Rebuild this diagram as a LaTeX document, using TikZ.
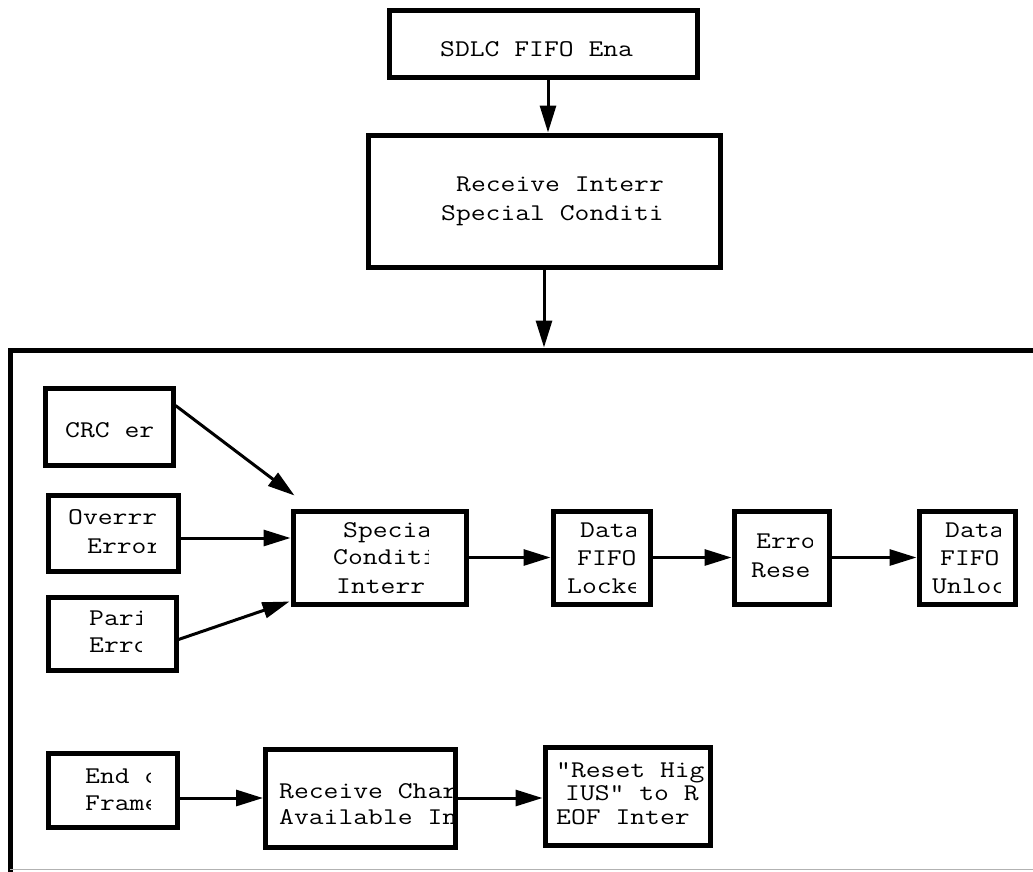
\documentclass[tikz,border=0pt]{standalone}
\usepackage{graphicx}
\usetikzlibrary{arrows.meta}
\newcommand\sx[1]{\scalebox{1.2}[1]{#1}}
\tikzset{
  bx/.style={draw, line width=5pt, inner sep=0pt, rectangle},
  txt/.style={anchor=base west, inner sep=0pt, font=\ttfamily\fontsize{24}{28}\selectfont},
  arr/.style={line width=3pt, -{Triangle[length=27pt,width=16pt]}},
}
% box: name, x1, y1, x2, y2
\newcommand\bxat[5]{\node[bx, minimum width={#4pt-#2pt}, minimum height={#5pt-#3pt}] (#1) at ({(#2+#4)/2},{(#3+#5)/2}) {};}
% clipped text: name, clip x, x, baseline y, text
\newcommand\ctext[5]{\begin{scope}\clip (0,0) rectangle (#2,871); \node[txt] (#1) at (#3,#4) {\sx{#5}};\end{scope}}
\begin{document}
\begin{tikzpicture}[x=1pt,y=-1pt]
\useasboundingbox (0,0) rectangle (1033,871);
\clip (0,0) rectangle (1033,871);
\fill[white] (0,0) rectangle (1033,871);
% outer frame
\node[bx, anchor=north west, minimum width=1100pt, minimum height=620pt] (frame) at (7.5,347.5) {};
\draw[gray!60, line width=1.5pt] (10,869.5) -- (1033,869.5);
% boxes
\bxat{sdlc}{389}{10}{697}{77}
\bxat{rint}{368}{135}{720}{267}
\bxat{crc}{45}{388}{173}{465}
\bxat{ovr}{48}{495}{178}{571}
\bxat{par}{48}{597}{176}{670}
\bxat{spec}{293}{511}{466}{604}
\bxat{lock}{553}{511}{650}{604}
\bxat{erst}{734}{511}{829}{604}
\bxat{unlk}{919}{511}{1015}{604}
\bxat{eof}{48.5}{753}{177.5}{827}
\bxat{rchr}{265.5}{749}{455.5}{847}
\bxat{rhi}{545}{747}{710}{845}
% texts
\ctext{t1}{637}{440}{56}{SDLC FIFO Ena}
\ctext{t2a}{663}{456}{191}{Receive Interr}
\ctext{t2b}{663}{441}{220}{Special Conditi}
\ctext{t3}{155}{65}{437}{CRC er}
\ctext{t4a}{155}{68}{524}{Overrr}
\ctext{t4b}{155}{87}{553}{Error}
\ctext{t5a}{141}{89}{625}{Pari}
\ctext{t5b}{141}{89}{652}{Erro}
\ctext{t6a}{428}{343}{537}{Specia}
\ctext{t6b}{428}{333}{564}{Conditi}
\ctext{t6c}{428}{336}{593}{Interr}
\ctext{t7a}{635}{580}{537}{Data}
\ctext{t7b}{635}{577}{565}{FIFO}
\ctext{t7c}{635}{567}{593}{Locke}
\ctext{t8a}{812}{756}{548}{Erro}
\ctext{t8b}{812}{751}{577}{Rese}
\ctext{t9a}{1000}{945}{537}{Data}
\ctext{t9b}{1000}{940}{565}{FIFO}
\ctext{t9c}{1000}{932}{593}{Unloc}
\ctext{t10a}{150}{85}{783}{End o}
\ctext{t10b}{150}{85}{810}{Frame}
\ctext{t11a}{462}{279}{798}{Receive Char}
\ctext{t11b}{462}{279}{824}{Available In}
\ctext{t12a}{704}{556}{777}{"Reset Hig}
\ctext{t12b}{704}{565}{800}{IUS" to R}
\ctext{t12c}{704}{556}{824}{EOF Inter}
% connectors
\draw[arr] ([shift={(5,0)}]sdlc.south) -- ([shift={(5,0)}]sdlc.south |- rint.north);
\draw[arr] (rint.south) -- (rint.south |- frame.north);
\draw[arr] ([shift={(0,20)}]crc.north east) -- ([shift={(4,-13)}]spec.north west);
\draw[arr] ([shift={(0,5)}]ovr.east) -- ([shift={(0,5)}]ovr.east -| spec.west);
\draw[arr] ([shift={(0,45)}]par.north east) -- ([shift={(-1,-5)}]spec.south west);
\draw[arr] (spec.east) -- (lock.west);
\draw[arr] (lock.east) -- (erst.west);
\draw[arr] (erst.east) -- (unlk.west);
\draw[arr] (rchr.west -| eof.east) -- (rchr.west);
\draw[arr] (rchr.east) -- (rchr.east -| rhi.west);
\end{tikzpicture}
\end{document}
